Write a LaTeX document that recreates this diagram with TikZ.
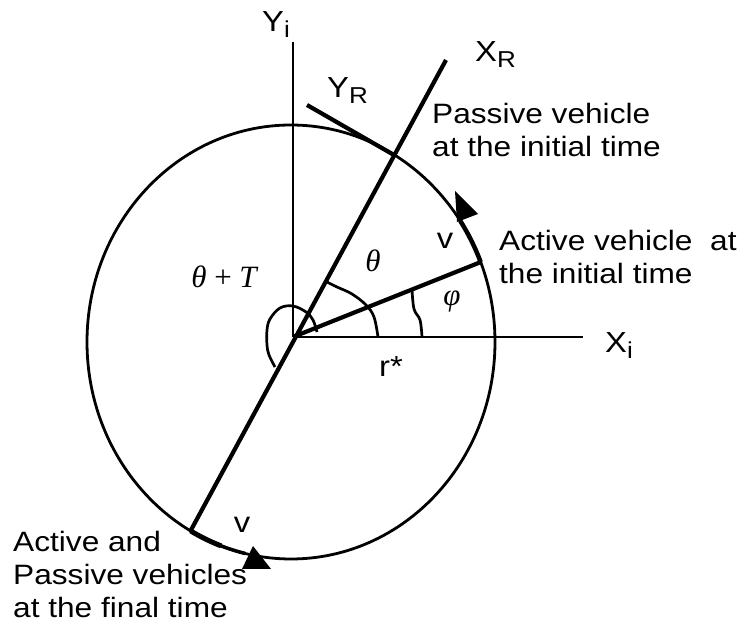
\documentclass[tikz,border=0pt]{standalone}
\usepackage{fontspec}
\usetikzlibrary{calc}
\setmainfont{Liberation Sans}[FakeStretch=1.13]
\newfontfamily\tms{Liberation Serif}
\newcommand\lsub[1]{\raisebox{-5.5pt}{\fontsize{23}{23}\selectfont #1}}
\begin{document}
\begin{tikzpicture}[x=1pt,y=1pt,
  axl/.style={line width=2.8pt},
  boldl/.style={line width=4.2pt},
  arcl/.style={line width=2.7pt},
  lbl/.style={font=\fontsize{28}{33}\selectfont, inner sep=0pt, align=left},
  axlbl/.style={font=\fontsize{29}{29}\selectfont, inner sep=0pt, anchor=base west},
  mth/.style={font=\fontsize{31}{31}\selectfont\tms, inner sep=0pt},
  vl/.style={font=\fontsize{29}{29}\selectfont, inner sep=0pt}]
\useasboundingbox (0,0) rectangle (740,635);
% key points
\coordinate (O) at (293,298);
\coordinate (C) at (291,293);
\coordinate (YiEnd) at (293,593);
\coordinate (XiEnd) at (583,298);
\coordinate (XRtop) at (446,575);
\coordinate (P) at (394,480);
\coordinate (YRend) at (307,530);
\coordinate (A) at ($(C)+(21.6:204 and 217)$);
\coordinate (B) at ($(C)+(240.5:204 and 217)$);
% circle
\draw[axl] (C) ellipse [x radius=204, y radius=217];
% axes
\draw[axl] (O) -- (YiEnd);
\draw[axl] (O) -- (XiEnd);
\draw[boldl] (B) -- (XRtop);
\draw[boldl] (O) -- (A);
\draw[boldl] (YRend) -- (P);
% velocity arcs and arrowheads
\draw[line width=4.5pt] (A) arc[start angle=21.6, end angle=34, x radius=204, y radius=217];
\fill (455,444) -- (478,421) -- (457,413) -- cycle;
\draw[line width=5pt] (B) arc[start angle=240.5, end angle=250, x radius=204, y radius=217];
\draw[line width=3.5pt] ($(C)+(250:204 and 217)$) arc[start angle=250, end angle=257, x radius=204, y radius=217];
\fill (253,89) -- (242,66) -- (271,66) -- cycle;
% angle arcs
\draw[arcl] plot[smooth, tension=0.6] coordinates {(378,298) (374,318) (366,330) (352,341) (337,348) (327,353)};
\draw[arcl] plot[smooth, tension=0.6] coordinates {(422,298) (420,315) (414,326) (412,346)};
\draw[arcl] plot[smooth, tension=0.6] coordinates {(317,303) (313,315) (306,323) (293,329) (280,327) (270,316) (267,305) (267,290) (269,280) (275,268)};
% axis labels
\node[axlbl] (lYi) at (262,603) {Y\lsub{i}};
\node[axlbl] (lXR) at (475,573) {X\lsub{R}};
\node[axlbl] (lYR) at (327,537) {Y\lsub{R}};
\node[axlbl] (lXi) at (605,282) {X\lsub{i}};
% math labels
\node[mth] (lthT) at (224,358) {\itshape θ\upshape\ + \itshape T};
\node[mth] (lth) at (373,374) {\itshape θ};
\node[mth] (lphi) at (452,334) {\itshape φ};
\node[vl] (lr) at (391,268) {r*};
\node[vl] (lv1) at (445,394) {v};
\node[vl] (lv2) at (242,110) {v};
% text blocks
\node[lbl, anchor=north west] (tPass) at (432,532) {Passive vehicle\\at the initial time};
\node[lbl, anchor=north west] (tAct) at (499,405) {Active vehicle\ \ at\\the initial time};
\node[lbl, anchor=north west] (tFin) at (13,104) {Active and\\Passive vehicles\\at the final time};
\end{tikzpicture}
\end{document}
